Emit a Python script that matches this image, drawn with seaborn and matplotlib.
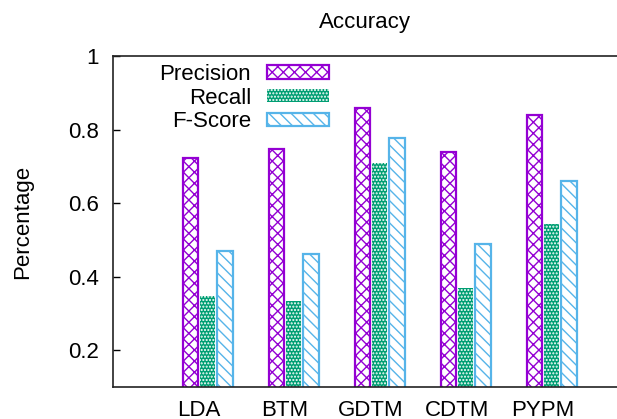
import matplotlib
matplotlib.use("Agg")
import matplotlib.pyplot as plt
import seaborn as sns
import pandas as pd

# valeurs
models = ["LDA", "BTM", "GDTM", "CDTM", "PYPM"]
metrics = ["Precision", "Recall", "F-Score"]
precision = [0.723, 0.747, 0.858, 0.739, 0.839]
recall = [0.347, 0.334, 0.709, 0.369, 0.544]
fscore = [0.469, 0.461, 0.777, 0.488, 0.659]

colors = ["#9400D3", "#009E73", "#56B4E9"]
hatches = ["xxx", ".....", "\\\\\\"]

df = pd.DataFrame({
    "model": models * 3,
    "metric": [m for m in metrics for _ in models],
    "value": precision + recall + fscore,
})

sns.set_style("ticks")
plt.rcParams["font.family"] = ["Liberation Sans", "DejaVu Sans"]
plt.rcParams["hatch.linewidth"] = 1.0
plt.rcParams["text.color"] = "black"
plt.rcParams["axes.labelcolor"] = "black"
plt.rcParams["xtick.color"] = "black"
plt.rcParams["ytick.color"] = "black"

fig = plt.figure(figsize=(6.17, 4.19), dpi=100)
# axe plus large que la figure : le bord droit est coupé comme dans l'original
ax = fig.add_axes([113 / 617, 32 / 419, 516 / 617, 331 / 419])

sns.barplot(data=df, x="model", y="value", hue="metric", order=models,
            hue_order=metrics, width=0.6, gap=0.1, palette=colors,
            legend=False, ax=ax)

for cont, col, h in zip(ax.containers, colors, hatches):
    for p in cont.patches:
        if h.startswith("."):
            p.set_facecolor(col)
            p.set_edgecolor("white")
            p.set_linewidth(0)
        else:
            p.set_facecolor("white")
            p.set_edgecolor(col)
            p.set_linewidth(1.6)
        p.set_hatch(h)

handles = [c.patches[0] for c in ax.containers]
leg = ax.legend(handles, metrics, loc="upper right",
                bbox_to_anchor=((329 - 113) / 516, (387 - 64) / 331),
                frameon=False, markerfirst=False, alignment="right",
                handlelength=2.8, handleheight=0.55, handletextpad=0.7,
                labelspacing=0.12, borderpad=0, borderaxespad=0, fontsize=16)

ax.set_xlim(-1.1, 4.9)
ax.set_ylim(0.1, 1.0)
ax.set_yticks([0.2, 0.4, 0.6, 0.8, 1.0])
ax.set_yticklabels(["0.2", "0.4", "0.6", "0.8", "1"])
ax.set_xticks([i - 0.1 for i in range(len(models))])
ax.set_xticklabels(models)
ax.tick_params(axis="y", direction="in", length=5, width=1, pad=10, labelsize=16)
ax.tick_params(axis="x", length=0, pad=9, labelsize=16)

for s in ["left", "bottom", "top"]:
    ax.spines[s].set_visible(True)
    ax.spines[s].set_linewidth(1.2)
    ax.spines[s].set_color("#222222")
ax.spines["right"].set_visible(False)

ax.set_xlabel("")
ax.set_ylabel("Percentage", fontsize=16)
ax.yaxis.set_label_coords((33 - 113) / 516, 0.5)
ax.set_title("Accuracy", fontsize=16, x=(365 - 113) / 516, pad=20)

fig.savefig("out.png", dpi=100)
